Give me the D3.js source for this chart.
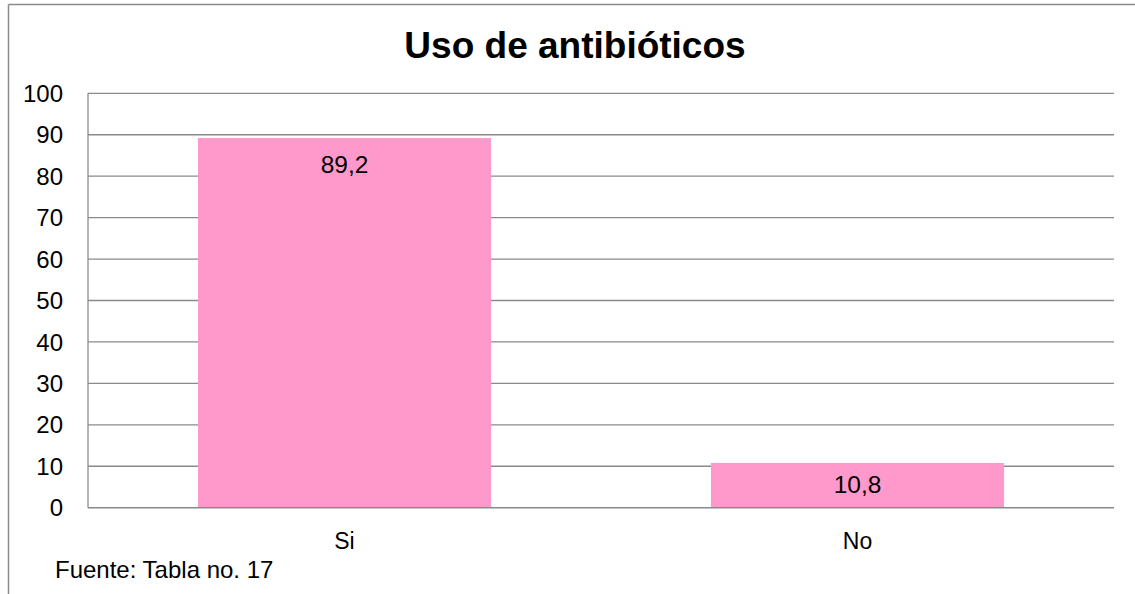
<!DOCTYPE html>
<html><head><meta charset="utf-8">
<script src="https://cdn.jsdelivr.net/npm/d3@7"></script>
<style>body{margin:0;background:#fff;overflow:hidden}svg{display:block}text{font-family:"Liberation Sans",Arial,sans-serif}</style>
</head><body><svg id="c" width="1135" height="594"></svg>
<script>
const categories = ["Si", "No"];
const values = [89.2, 10.8];
const labels = ["89,2", "10,8"];
const yTicks = [0,10,20,30,40,50,60,70,80,90,100];
const title = "Uso de antibióticos";
const source = "Fuente: Tabla no. 17";

const svg = d3.select("#c");
const m = {l: 88, r: 1114, t: 93.3, b: 507.7};
svg.append("line").attr("x1",8.5).attr("x2",1135).attr("y1",4.5).attr("y2",4.5).attr("stroke","#8a8a8a").attr("stroke-width",1.5);
svg.append("line").attr("x1",8.5).attr("x2",8.5).attr("y1",4.5).attr("y2",594).attr("stroke","#8a8a8a").attr("stroke-width",1.5);

const x = d3.scaleBand().domain(categories).range([m.l, m.r]).paddingInner(0.4286).paddingOuter(0.2143);
const y = d3.scaleLinear().domain([0,100]).range([m.b, m.t]);

svg.append("g").selectAll("line").data(yTicks.filter(d=>d>0)).join("line")
  .attr("x1",m.l).attr("x2",m.r).attr("y1",d=>y(d)).attr("y2",d=>y(d))
  .attr("stroke","#8a8a8a").attr("stroke-width",1.3);

svg.append("g").selectAll("rect").data(values).join("rect")
  .attr("x",(d,i)=>x(categories[i])).attr("width",x.bandwidth())
  .attr("y",d=>y(d)).attr("height",d=>y(0)-y(d)).attr("fill","#ff99cc");

svg.append("line").attr("x1",m.l).attr("x2",m.l).attr("y1",m.t).attr("y2",m.b).attr("stroke","#8a8a8a").attr("stroke-width",1.3);
svg.append("line").attr("x1",m.l).attr("x2",m.r).attr("y1",y(0)).attr("y2",y(0)).attr("stroke","#8a8a8a").attr("stroke-width",1.5);

svg.append("g").selectAll("text").data(yTicks).join("text")
  .attr("x",63).attr("y",d=>y(d)).attr("dy","0.36em").attr("text-anchor","end")
  .attr("font-size",24).attr("fill","#000").text(d=>d);

svg.append("g").selectAll("text").data(categories).join("text")
  .attr("x",d=>x(d)+x.bandwidth()/2).attr("y",549).attr("text-anchor","middle")
  .attr("font-size",23).attr("fill","#000").text(d=>d);

svg.append("g").selectAll("text").data(values).join("text")
  .attr("x",(d,i)=>x(categories[i])+x.bandwidth()/2)
  .attr("y",d=>Math.min(y(d)+35,(y(d)+y(0))/2+7.5))
  .attr("text-anchor","middle").attr("font-size",24.5).attr("fill","#000")
  .text((d,i)=>labels[i]);

svg.append("text").attr("x",575).attr("y",58).attr("text-anchor","middle")
  .attr("font-size",37).attr("font-weight","bold").text(title);
svg.append("text").attr("x",55).attr("y",578).attr("font-size",24).text(source);
</script></body></html>
